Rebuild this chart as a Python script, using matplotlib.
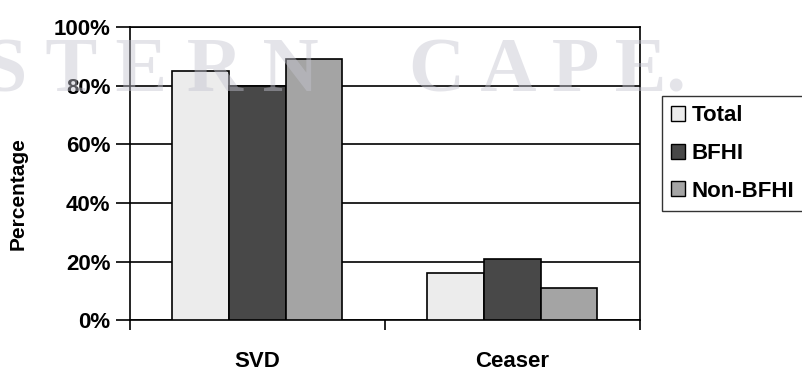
import numpy as np
import matplotlib
matplotlib.use('Agg')
import matplotlib.pyplot as plt
from matplotlib.ticker import PercentFormatter
from matplotlib.patches import Patch

plt.rcParams['font.family'] = 'Liberation Sans'
plt.rcParams['font.weight'] = 'bold'

categories = ['SVD', 'Ceaser']
series = ['Total', 'BFHI', 'Non-BFHI']
total = [0.85, 0.16]
bfhi = [0.80, 0.21]
non_bfhi = [0.89, 0.11]
colors = ['#ececec', '#484848', '#a4a4a4']
yticks = [0, 0.2, 0.4, 0.6, 0.8, 1.0]

fig = plt.figure(figsize=(8.02, 3.74), dpi=100)
ax = fig.add_axes([0.162, 0.144, 0.636, 0.784])

x = np.arange(len(categories))
w = 2 / 9
for i, (vals, c, name) in enumerate(zip([total, bfhi, non_bfhi], colors, series)):
    ax.bar(x + (i - 1) * w, vals, width=w, color=c, edgecolor='black',
           linewidth=1.2, label=name, zorder=3)

ax.set_xlim(-0.5, 1.5)
ax.set_ylim(0, 1)
ax.set_yticks(yticks)
ax.yaxis.set_major_formatter(PercentFormatter(1.0, decimals=0))
ax.yaxis.grid(True, color='black', linewidth=1.2, zorder=0)
ax.set_axisbelow(True)

ax.set_xticks(x)
ax.set_xticklabels(categories)
ax.set_xticks([-0.5, 0.5, 1.5], minor=True)
ax.tick_params(axis='x', which='major', length=0, pad=22, labelsize=16)
ax.tick_params(axis='x', which='minor', length=7, width=1.2, direction='out')
ax.tick_params(axis='y', length=10, width=1.2, pad=4, labelsize=16)

for s in ax.spines.values():
    s.set_linewidth(1.2)

ax.set_ylabel('Percentage', fontsize=15, fontweight='bold')
ax.yaxis.set_label_coords(-0.2, 0.43)

handles = [Patch(facecolor=c, edgecolor='black', linewidth=1) for c in colors]
fig.legend(handles, series, loc='upper left', bbox_to_anchor=(0.825, 0.742),
           frameon=True, fancybox=False, edgecolor='black', fontsize=16,
           handlelength=0.65, handleheight=0.65, handletextpad=0.3,
           labelspacing=0.75, borderpad=0.4, borderaxespad=0)

# faint watermark lettering across the top
wm = dict(family='Liberation Serif', fontsize=56, color='#c4c4d0', alpha=0.45,
          va='center', ha='left', fontweight='bold', zorder=10)
fig.text(-0.02, 0.805, 'S T E R N', **wm)
fig.text(0.51, 0.805, 'C A P E.', **wm)

fig.savefig('out.png', dpi=100)
